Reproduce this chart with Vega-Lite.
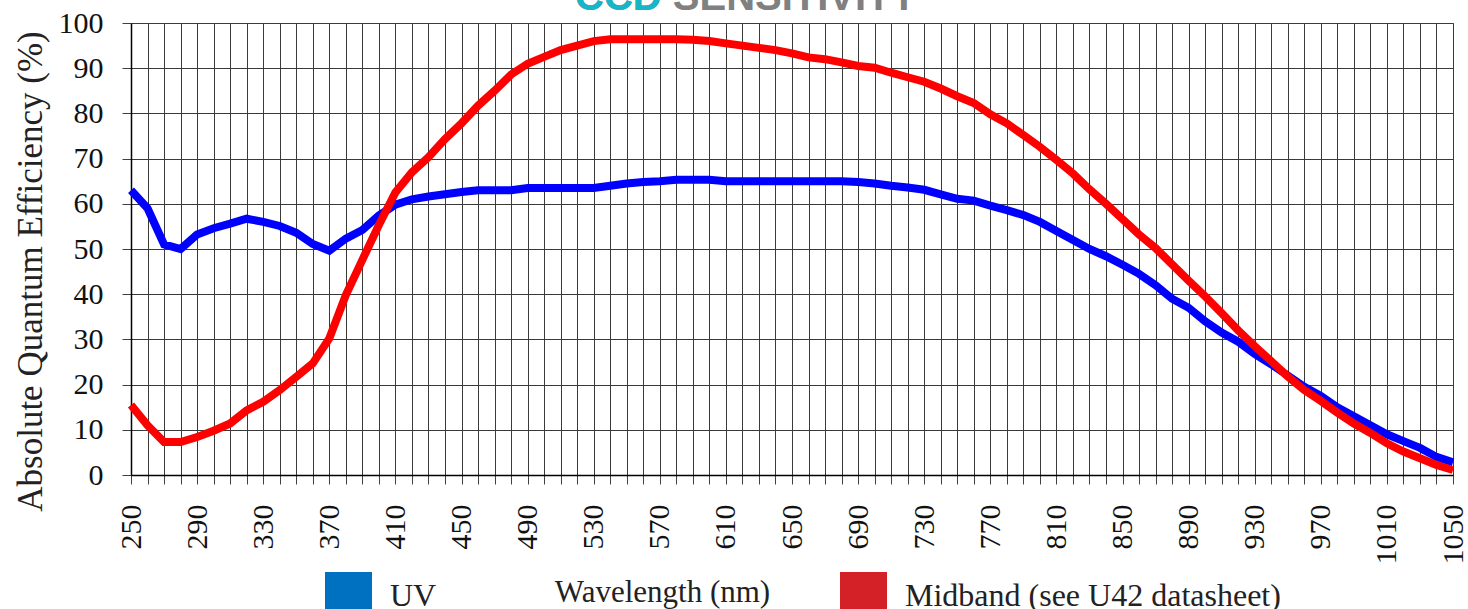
{
  "$schema": "https://vega.github.io/schema/vega-lite/v6.json",
  "autosize": {"type": "none"},
  "padding": {"left": 131, "top": 23, "right": 15, "bottom": 134},
  "width": 1322,
  "height": 452,
  "background": "white",
  "title": {
    "text": "CCD SENSITIVITY",
    "subtitle": "CCD",
    "anchor": "start",
    "frame": "group",
    "dx": 444,
    "offset": -10,
    "font": "Liberation Sans, Arial, sans-serif",
    "fontSize": 40,
    "fontWeight": "bold",
    "color": "#808080",
    "subtitleFont": "Liberation Sans, Arial, sans-serif",
    "subtitleFontSize": 40,
    "subtitleFontWeight": "bold",
    "subtitleColor": "#17b5c8",
    "subtitlePadding": -40
  },
  "config": {
    "font": "serif",
    "axis": {"labelFont": "serif", "titleFont": "serif"},
    "axisX": {"labelFont": "serif"},
    "axisY": {"labelFont": "serif"},
    "legend": {"labelFont": "serif"},
    "view": {"stroke": "#a0a0a0", "strokeWidth": 1}
  },
  "data": {
    "values": [
      {"wavelength":250,"series":"UV","qe":63},{"wavelength":260,"series":"UV","qe":59},{"wavelength":270,"series":"UV","qe":51},{"wavelength":280,"series":"UV","qe":50},{"wavelength":290,"series":"UV","qe":53.2},{"wavelength":300,"series":"UV","qe":54.6},{"wavelength":310,"series":"UV","qe":55.6},{"wavelength":320,"series":"UV","qe":56.7},{"wavelength":330,"series":"UV","qe":56},{"wavelength":340,"series":"UV","qe":55.1},{"wavelength":350,"series":"UV","qe":53.6},{"wavelength":360,"series":"UV","qe":51.1},{"wavelength":370,"series":"UV","qe":49.6},{"wavelength":380,"series":"UV","qe":52.3},{"wavelength":390,"series":"UV","qe":54.2},{"wavelength":400,"series":"UV","qe":57.4},{"wavelength":410,"series":"UV","qe":59.8},{"wavelength":420,"series":"UV","qe":61},{"wavelength":430,"series":"UV","qe":61.6},{"wavelength":440,"series":"UV","qe":62.1},{"wavelength":450,"series":"UV","qe":62.6},{"wavelength":460,"series":"UV","qe":63},{"wavelength":470,"series":"UV","qe":63},{"wavelength":480,"series":"UV","qe":63},{"wavelength":490,"series":"UV","qe":63.5},{"wavelength":500,"series":"UV","qe":63.5},{"wavelength":510,"series":"UV","qe":63.5},{"wavelength":520,"series":"UV","qe":63.5},{"wavelength":530,"series":"UV","qe":63.5},{"wavelength":540,"series":"UV","qe":64},{"wavelength":550,"series":"UV","qe":64.5},{"wavelength":560,"series":"UV","qe":64.8},{"wavelength":570,"series":"UV","qe":65},{"wavelength":580,"series":"UV","qe":65.3},{"wavelength":590,"series":"UV","qe":65.3},{"wavelength":600,"series":"UV","qe":65.3},{"wavelength":610,"series":"UV","qe":65},{"wavelength":620,"series":"UV","qe":65},{"wavelength":630,"series":"UV","qe":65},{"wavelength":640,"series":"UV","qe":65},{"wavelength":650,"series":"UV","qe":65},{"wavelength":660,"series":"UV","qe":65},{"wavelength":670,"series":"UV","qe":65},{"wavelength":680,"series":"UV","qe":65},{"wavelength":690,"series":"UV","qe":64.8},{"wavelength":700,"series":"UV","qe":64.5},{"wavelength":710,"series":"UV","qe":64},{"wavelength":720,"series":"UV","qe":63.6},{"wavelength":730,"series":"UV","qe":63.1},{"wavelength":740,"series":"UV","qe":62.1},{"wavelength":750,"series":"UV","qe":61.1},{"wavelength":760,"series":"UV","qe":60.7},{"wavelength":770,"series":"UV","qe":59.6},{"wavelength":780,"series":"UV","qe":58.6},{"wavelength":790,"series":"UV","qe":57.5},{"wavelength":800,"series":"UV","qe":56},{"wavelength":810,"series":"UV","qe":54},{"wavelength":820,"series":"UV","qe":52},{"wavelength":830,"series":"UV","qe":50},{"wavelength":840,"series":"UV","qe":48.4},{"wavelength":850,"series":"UV","qe":46.5},{"wavelength":860,"series":"UV","qe":44.5},{"wavelength":870,"series":"UV","qe":42},{"wavelength":880,"series":"UV","qe":39},{"wavelength":890,"series":"UV","qe":37},{"wavelength":900,"series":"UV","qe":34},{"wavelength":910,"series":"UV","qe":31.5},{"wavelength":920,"series":"UV","qe":29.5},{"wavelength":930,"series":"UV","qe":26.8},{"wavelength":940,"series":"UV","qe":24.5},{"wavelength":950,"series":"UV","qe":22},{"wavelength":960,"series":"UV","qe":19.5},{"wavelength":970,"series":"UV","qe":17.5},{"wavelength":980,"series":"UV","qe":15},{"wavelength":990,"series":"UV","qe":13},{"wavelength":1000,"series":"UV","qe":11},{"wavelength":1010,"series":"UV","qe":9},{"wavelength":1020,"series":"UV","qe":7.5},{"wavelength":1030,"series":"UV","qe":6},{"wavelength":1040,"series":"UV","qe":4},{"wavelength":1050,"series":"UV","qe":2.8},
      {"wavelength":250,"series":"Midband (see U42 datasheet)","qe":15.5},{"wavelength":260,"series":"Midband (see U42 datasheet)","qe":11},{"wavelength":270,"series":"Midband (see U42 datasheet)","qe":7.3},{"wavelength":280,"series":"Midband (see U42 datasheet)","qe":7.3},{"wavelength":290,"series":"Midband (see U42 datasheet)","qe":8.4},{"wavelength":300,"series":"Midband (see U42 datasheet)","qe":9.8},{"wavelength":310,"series":"Midband (see U42 datasheet)","qe":11.4},{"wavelength":320,"series":"Midband (see U42 datasheet)","qe":14.3},{"wavelength":330,"series":"Midband (see U42 datasheet)","qe":16.2},{"wavelength":340,"series":"Midband (see U42 datasheet)","qe":18.8},{"wavelength":350,"series":"Midband (see U42 datasheet)","qe":21.7},{"wavelength":360,"series":"Midband (see U42 datasheet)","qe":24.7},{"wavelength":370,"series":"Midband (see U42 datasheet)","qe":30.2},{"wavelength":380,"series":"Midband (see U42 datasheet)","qe":39.8},{"wavelength":390,"series":"Midband (see U42 datasheet)","qe":47.6},{"wavelength":400,"series":"Midband (see U42 datasheet)","qe":55.3},{"wavelength":410,"series":"Midband (see U42 datasheet)","qe":62.5},{"wavelength":420,"series":"Midband (see U42 datasheet)","qe":67},{"wavelength":430,"series":"Midband (see U42 datasheet)","qe":70.3},{"wavelength":440,"series":"Midband (see U42 datasheet)","qe":74.3},{"wavelength":450,"series":"Midband (see U42 datasheet)","qe":77.8},{"wavelength":460,"series":"Midband (see U42 datasheet)","qe":81.7},{"wavelength":470,"series":"Midband (see U42 datasheet)","qe":85},{"wavelength":480,"series":"Midband (see U42 datasheet)","qe":88.6},{"wavelength":490,"series":"Midband (see U42 datasheet)","qe":91},{"wavelength":500,"series":"Midband (see U42 datasheet)","qe":92.5},{"wavelength":510,"series":"Midband (see U42 datasheet)","qe":94},{"wavelength":520,"series":"Midband (see U42 datasheet)","qe":95},{"wavelength":530,"series":"Midband (see U42 datasheet)","qe":96},{"wavelength":540,"series":"Midband (see U42 datasheet)","qe":96.4},{"wavelength":550,"series":"Midband (see U42 datasheet)","qe":96.4},{"wavelength":560,"series":"Midband (see U42 datasheet)","qe":96.4},{"wavelength":570,"series":"Midband (see U42 datasheet)","qe":96.4},{"wavelength":580,"series":"Midband (see U42 datasheet)","qe":96.4},{"wavelength":590,"series":"Midband (see U42 datasheet)","qe":96.3},{"wavelength":600,"series":"Midband (see U42 datasheet)","qe":96},{"wavelength":610,"series":"Midband (see U42 datasheet)","qe":95.5},{"wavelength":620,"series":"Midband (see U42 datasheet)","qe":95},{"wavelength":630,"series":"Midband (see U42 datasheet)","qe":94.5},{"wavelength":640,"series":"Midband (see U42 datasheet)","qe":94},{"wavelength":650,"series":"Midband (see U42 datasheet)","qe":93.3},{"wavelength":660,"series":"Midband (see U42 datasheet)","qe":92.4},{"wavelength":670,"series":"Midband (see U42 datasheet)","qe":92},{"wavelength":680,"series":"Midband (see U42 datasheet)","qe":91.3},{"wavelength":690,"series":"Midband (see U42 datasheet)","qe":90.5},{"wavelength":700,"series":"Midband (see U42 datasheet)","qe":90.1},{"wavelength":710,"series":"Midband (see U42 datasheet)","qe":89},{"wavelength":720,"series":"Midband (see U42 datasheet)","qe":88},{"wavelength":730,"series":"Midband (see U42 datasheet)","qe":87},{"wavelength":740,"series":"Midband (see U42 datasheet)","qe":85.5},{"wavelength":750,"series":"Midband (see U42 datasheet)","qe":83.8},{"wavelength":760,"series":"Midband (see U42 datasheet)","qe":82.3},{"wavelength":770,"series":"Midband (see U42 datasheet)","qe":79.8},{"wavelength":780,"series":"Midband (see U42 datasheet)","qe":77.8},{"wavelength":790,"series":"Midband (see U42 datasheet)","qe":75.2},{"wavelength":800,"series":"Midband (see U42 datasheet)","qe":72.6},{"wavelength":810,"series":"Midband (see U42 datasheet)","qe":69.7},{"wavelength":820,"series":"Midband (see U42 datasheet)","qe":66.7},{"wavelength":830,"series":"Midband (see U42 datasheet)","qe":63.2},{"wavelength":840,"series":"Midband (see U42 datasheet)","qe":60},{"wavelength":850,"series":"Midband (see U42 datasheet)","qe":56.6},{"wavelength":860,"series":"Midband (see U42 datasheet)","qe":53.2},{"wavelength":870,"series":"Midband (see U42 datasheet)","qe":50.2},{"wavelength":880,"series":"Midband (see U42 datasheet)","qe":46.6},{"wavelength":890,"series":"Midband (see U42 datasheet)","qe":43},{"wavelength":900,"series":"Midband (see U42 datasheet)","qe":39.5},{"wavelength":910,"series":"Midband (see U42 datasheet)","qe":35.8},{"wavelength":920,"series":"Midband (see U42 datasheet)","qe":32},{"wavelength":930,"series":"Midband (see U42 datasheet)","qe":28.5},{"wavelength":940,"series":"Midband (see U42 datasheet)","qe":25.2},{"wavelength":950,"series":"Midband (see U42 datasheet)","qe":21.8},{"wavelength":960,"series":"Midband (see U42 datasheet)","qe":18.8},{"wavelength":970,"series":"Midband (see U42 datasheet)","qe":16.4},{"wavelength":980,"series":"Midband (see U42 datasheet)","qe":13.8},{"wavelength":990,"series":"Midband (see U42 datasheet)","qe":11.4},{"wavelength":1000,"series":"Midband (see U42 datasheet)","qe":9.3},{"wavelength":1010,"series":"Midband (see U42 datasheet)","qe":7},{"wavelength":1020,"series":"Midband (see U42 datasheet)","qe":5.2},{"wavelength":1030,"series":"Midband (see U42 datasheet)","qe":3.7},{"wavelength":1040,"series":"Midband (see U42 datasheet)","qe":2.2},{"wavelength":1050,"series":"Midband (see U42 datasheet)","qe":1.1}
    ]
  },
  "mark": {"type": "line", "strokeWidth": 8, "strokeJoin": "miter", "strokeCap": "butt", "clip": false},
  "encoding": {
    "x": {
      "field": "wavelength",
      "type": "quantitative",
      "scale": {"domain": [250, 1050], "nice": false, "zero": false},
      "axis": {
        "values": [250,260,270,280,290,300,310,320,330,340,350,360,370,380,390,400,410,420,430,440,450,460,470,480,490,500,510,520,530,540,550,560,570,580,590,600,610,620,630,640,650,660,670,680,690,700,710,720,730,740,750,760,770,780,790,800,810,820,830,840,850,860,870,880,890,900,910,920,930,940,950,960,970,980,990,1000,1010,1020,1030,1040,1050],
        "format": "d",
        "labelExpr": "(datum.value - 250) % 40 == 0 ? datum.label : ''",
        "labelAngle": 270,
        "labelAlign": "right",
        "labelBaseline": "middle",
        "labelFont": "serif",
        "labelFontSize": 30,
        "labelColor": "#111111",
        "labelPadding": 20,
        "labelOverlap": false,
        "labelFlush": false,
        "tickSize": 9,
        "tickColor": "#404040",
        "tickWidth": 1,
        "domainColor": "#000000",
        "domainWidth": 1.5,
        "grid": true,
        "gridColor": "#3a3a3a",
        "gridOpacity": 1,
        "gridWidth": 1,
        "title": "Wavelength (nm)",
        "titleX": 531,
        "titleY": 117,
        "titleAlign": "center",
        "titleBaseline": "middle",
        "titleFont": "serif",
        "titleFontSize": 31,
        "titleFontWeight": "normal",
        "titleColor": "#222222"
      }
    },
    "y": {
      "field": "qe",
      "type": "quantitative",
      "scale": {"domain": [0, 100], "nice": false},
      "axis": {
        "values": [0,10,20,30,40,50,60,70,80,90,100],
        "labelFont": "serif",
        "labelFontSize": 30,
        "labelColor": "#111111",
        "labelPadding": 19,
        "tickSize": 9,
        "tickColor": "#404040",
        "domainColor": "#000000",
        "domainWidth": 1.5,
        "grid": true,
        "gridColor": "#3a3a3a",
        "gridOpacity": 1,
        "gridWidth": 1,
        "title": "Absolute Quantum Efficiency (%)",
        "titleX": -101,
        "titleY": 248,
        "titleAngle": 270,
        "titleAlign": "center",
        "titleBaseline": "middle",
        "titleFont": "serif",
        "titleFontSize": 35,
        "titleFontWeight": "normal",
        "titleColor": "#222222"
      }
    },
    "color": {
      "field": "series",
      "type": "nominal",
      "scale": {"domain": ["UV", "Midband (see U42 datasheet)"], "range": ["#0000ff", "#ff0000"]},
      "legend": {
        "title": null,
        "orient": "none",
        "legendX": 194,
        "legendY": 549,
        "direction": "horizontal",
        "columns": 2,
        "columnPadding": 403,
        "symbolType": "square",
        "symbolSize": 2209,
        "symbolStrokeWidth": 0,
        "labelFont": "serif",
        "labelFontSize": 32,
        "labelColor": "#222222",
        "labelOffset": 18,
        "labelLimit": 0,
        "encode": {
          "symbols": {
            "update": {
              "fill": [{"test": "datum.value === 'UV'", "value": "#0070c0"}, {"value": "#d42027"}],
              "stroke": {"value": "transparent"},
              "opacity": {"value": 1}
            }
          }
        }
      }
    }
  }
}
